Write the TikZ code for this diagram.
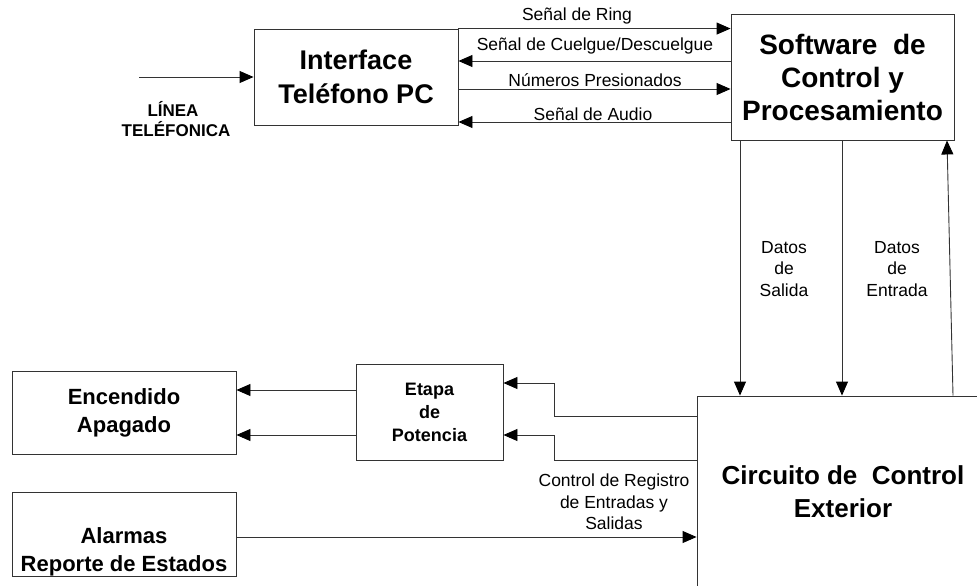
\documentclass[tikz,border=0pt]{standalone}
\usepackage{fontspec}
\setmainfont{Liberation Sans}
\usetikzlibrary{arrows.meta,calc}
\begin{document}
\begin{tikzpicture}[x=1pt,y=-1pt,
  box/.style={draw=black!80, line width=0.9pt, rectangle, inner sep=0pt, align=center},
  bigtxt/.style={font=\fontsize{27}{34}\selectfont\bfseries},
  midtxt/.style={font=\fontsize{22}{28}\selectfont\bfseries},
  lbl/.style={font=\fontsize{17.5}{21.5}\selectfont, align=center, inner sep=0pt},
  conn/.style={draw=black!80, line width=0.9pt, -{Triangle[length=14pt,width=12pt,fill=black,color=black]}}
]
\useasboundingbox (0,0) rectangle (977,586);
% boxes
\node[box, bigtxt, minimum width=204pt, minimum height=96pt] (iface) at (356,77) {Interface\\Teléfono PC};
\node[box, font=\fontsize{28}{33}\selectfont\bfseries, minimum width=223pt, minimum height=126pt] (sw) at (842.5,77) {Software\ \ de\\Control y\\Procesamiento};
\node[box, minimum width=303pt, minimum height=224pt] (circ) at (848.5,508) {};
\node[align=center, font=\fontsize{26}{33}\selectfont\bfseries, inner sep=0pt] (circtext) at (843,492) {Circuito de\ \ Control\\Exterior};
\node[box, midtxt, minimum width=224pt, minimum height=83pt] (enc) at (124,412.5) {Encendido\\Apagado};
\node[box, minimum width=224pt, minimum height=84pt] (alar) at (124,534) {};
\node[align=center, midtxt, inner sep=0pt] (alartext) at (124,552) {Alarmas\\Reporte de Estados};
\node[box, font=\fontsize{18}{23}\selectfont\bfseries, minimum width=147pt, minimum height=96pt] (etapa) at (429.5,412) {Etapa\\de\\Potencia};
% line input
\coordinate (lin) at (139,77);
\draw[conn] (lin) -- (iface.west);
\node[lbl, font=\fontsize{17}{20}\selectfont\bfseries] (linea) at (173,109) {LÍNEA};
\node[lbl, font=\fontsize{17}{20}\selectfont\bfseries] (telef) at (176,129) {TELÉFONICA};
% interface <-> software
\draw[conn] (iface.north east) -- (iface.north east -| sw.west);
\draw[conn] (sw.west |- 0,61) -- (iface.east |- 0,61);
\draw[conn] (iface.east |- 0,89) -- (sw.west |- 0,89);
\draw[conn] (sw.west |- 0,122) -- (iface.east |- 0,122);
\node[lbl] (l1) at (577,16) {Señal de Ring};
\node[lbl] (l2) at (595,46) {Señal de Cuelgue/Descuelgue};
\node[lbl] (l3) at (595,80) {Números Presionados};
\node[lbl] (l4) at (593,114) {Señal de Audio};
% software <-> circuito
\draw[conn] (sw.south -| 740,0) -- (circ.north -| 740,0);
\draw[conn] (sw.south -| 842,0) -- (circ.north -| 842,0);
\draw[conn] (circ.north -| 953,0) -- (sw.south -| 947,0);
\node[lbl] (ds) at (784,269) {Datos\\de\\Salida};
\node[lbl] (de) at (897,269) {Datos\\de\\Entrada};
% circuito -> etapa
\draw[conn] (circ.west |- 0,416) -- (554,416) -- (554,383) -- (etapa.east |- 0,383);
\draw[conn] (circ.west |- 0,460) -- (554,460) -- (554,435) -- (etapa.east |- 0,435);
% etapa -> encendido
\draw[conn] (etapa.west |- 0,390) -- (enc.east |- 0,390);
\draw[conn] (etapa.west |- 0,435) -- (enc.east |- 0,435);
% alarmas -> circuito
\draw[conn] (alar.east |- 0,537) -- (circ.west |- 0,537);
\node[lbl] (ctl) at (614,502) {Control de Registro\\de Entradas y\\Salidas};
\end{tikzpicture}
\end{document}
